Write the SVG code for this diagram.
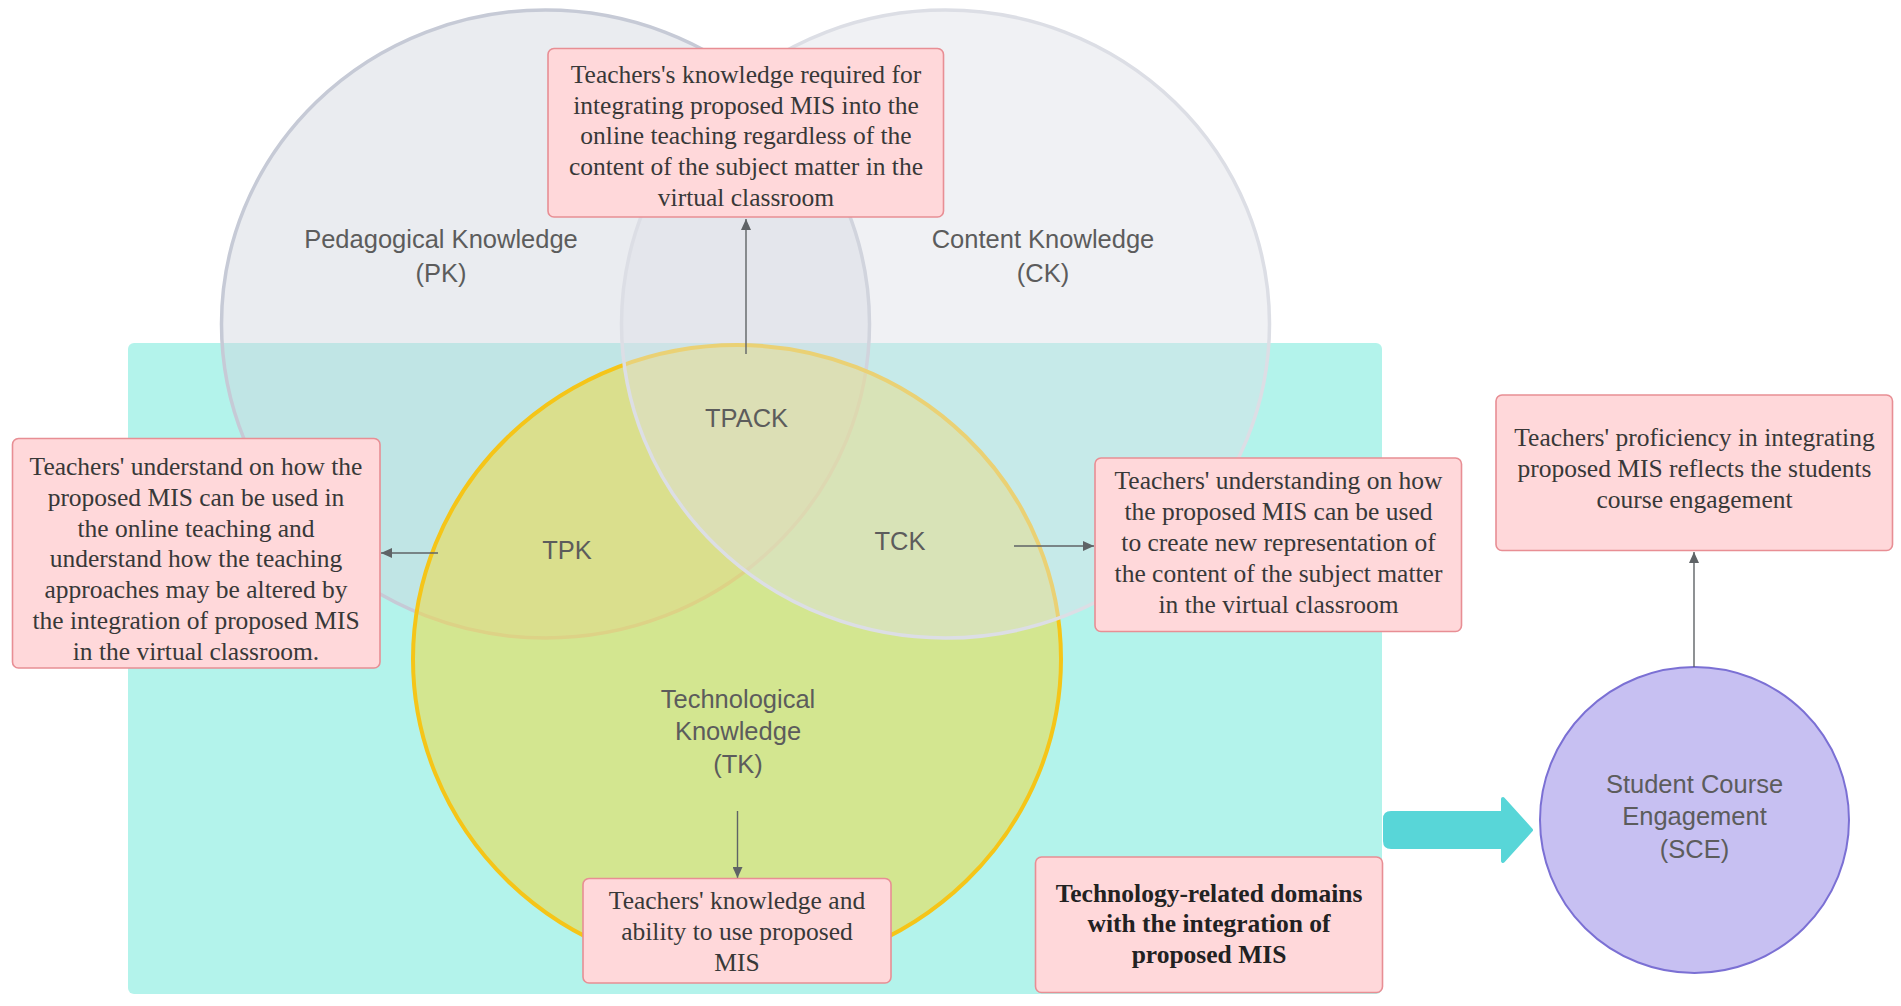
<svg xmlns="http://www.w3.org/2000/svg" width="1901" height="1006" viewBox="0 0 1901 1006">
<defs>
<style>
.box{fill:#ffd8da;stroke:#e88e94;stroke-width:1.6}
.bt{font-family:"Liberation Serif","Times New Roman",serif;font-size:25.5px;fill:#383838;text-anchor:middle}
.bb{font-weight:bold;fill:#222}
.lab{font-family:"Liberation Sans",Arial,sans-serif;font-size:25.5px;fill:#5c5c5c;text-anchor:middle}
.conn{stroke:#5f6366;stroke-width:1.4;fill:none}
</style>
<marker id="ah" markerUnits="userSpaceOnUse" markerWidth="11" markerHeight="10" refX="11" refY="5" orient="auto">
<path d="M0,0 L11,5 L0,10 Z" fill="#5f6366"/>
</marker>
</defs>
<rect width="1901" height="1006" fill="#ffffff"/>
<g id="tech-area">
<rect x="128" y="343" width="1254" height="651" rx="6" fill="#b3f3eb"/>
</g>
<g id="pk">
<ellipse cx="545.5" cy="324" rx="324" ry="314" fill="#d0d5de" fill-opacity="0.45" stroke="#c6cad6" stroke-width="3.5"/>
</g>
<g id="tk">
<ellipse cx="737" cy="659" rx="324" ry="314" fill="#f3d935" fill-opacity="0.5" stroke="#f5c518" stroke-width="4"/>
</g>
<g id="ck">
<ellipse cx="945.5" cy="324" rx="324" ry="314" fill="#dee0e7" fill-opacity="0.45" stroke="#dcdee5" stroke-width="3.5"/>
</g>
<g id="labels">
<text class="lab" x="441" y="248">Pedagogical Knowledge</text>
<text class="lab" x="441" y="282">(PK)</text>
<text class="lab" x="1043" y="248">Content Knowledge</text>
<text class="lab" x="1043" y="282">(CK)</text>
<text class="lab" x="746.5" y="427">TPACK</text>
<text class="lab" x="567" y="559">TPK</text>
<text class="lab" x="900" y="550">TCK</text>
<text class="lab" x="738" y="708">Technological</text>
<text class="lab" x="738" y="740">Knowledge</text>
<text class="lab" x="738" y="773">(TK)</text>
</g>
<g id="big-arrow">
<path d="M1391,813 L1503,813 L1503,799 L1531,830 L1503,861 L1503,847 L1391,847 Q1385,847 1385,841 L1385,819 Q1385,813 1391,813 Z" fill="#58d6d8" stroke="#58d6d8" stroke-width="4" stroke-linejoin="round"/>
</g>
<g id="sce">
<ellipse cx="1694.5" cy="820" rx="154.5" ry="153" fill="#c7c0f2" stroke="#7b70d4" stroke-width="2"/>
<text class="lab" x="1694.5" y="793">Student Course</text>
<text class="lab" x="1694.5" y="825">Engagement</text>
<text class="lab" x="1694.5" y="858">(SCE)</text>
</g>
<g id="connectors">
<path class="conn" d="M746,354 L746,219" marker-end="url(#ah)"/>
<path class="conn" d="M438,553 L381,553" marker-end="url(#ah)"/>
<path class="conn" d="M1014,546 L1094,546" marker-end="url(#ah)"/>
<path class="conn" d="M737.5,811 L737.5,878" marker-end="url(#ah)"/>
<path class="conn" d="M1694,667 L1694,552" marker-end="url(#ah)"/>
</g>
<g id="box-tpack">
<rect class="box" x="548" y="48.5" width="395.5" height="168.5" rx="6"/>
<text class="bt" x="746" y="82.5">Teachers's knowledge required for</text>
<text class="bt" x="746" y="113.5">integrating proposed MIS into the</text>
<text class="bt" x="746" y="144">online teaching regardless of the</text>
<text class="bt" x="746" y="175">content of the subject matter in the</text>
<text class="bt" x="746" y="205.5">virtual classroom</text>
</g>
<g id="box-tpk">
<rect class="box" x="12.5" y="438.5" width="367.5" height="229.5" rx="6"/>
<text class="bt" x="196" y="474.5">Teachers' understand on how the</text>
<text class="bt" x="196" y="505.5">proposed MIS can be used in</text>
<text class="bt" x="196" y="536.5">the online teaching and</text>
<text class="bt" x="196" y="567">understand how the teaching</text>
<text class="bt" x="196" y="598">approaches may be altered by</text>
<text class="bt" x="196" y="629">the integration of proposed MIS</text>
<text class="bt" x="196" y="660">in the virtual classroom.</text>
</g>
<g id="box-tck">
<rect class="box" x="1095" y="458" width="366.5" height="173.5" rx="6"/>
<text class="bt" x="1278.5" y="489">Teachers' understanding on how</text>
<text class="bt" x="1278.5" y="520">the proposed MIS can be used</text>
<text class="bt" x="1278.5" y="551">to create new representation of</text>
<text class="bt" x="1278.5" y="582">the content of the subject matter</text>
<text class="bt" x="1278.5" y="612.5">in the virtual classroom</text>
</g>
<g id="box-sce">
<rect class="box" x="1496" y="395" width="396.5" height="155.5" rx="6"/>
<text class="bt" x="1694.5" y="446">Teachers' proficiency in integrating</text>
<text class="bt" x="1694.5" y="476.5">proposed MIS reflects the students</text>
<text class="bt" x="1694.5" y="507.5">course engagement</text>
</g>
<g id="box-tk">
<rect class="box" x="583" y="878.5" width="308" height="104.5" rx="6"/>
<text class="bt" x="737" y="909">Teachers' knowledge and</text>
<text class="bt" x="737" y="940">ability to use proposed</text>
<text class="bt" x="737" y="971">MIS</text>
</g>
<g id="box-domains">
<rect class="box" x="1035.5" y="857" width="347" height="135.5" rx="6"/>
<text class="bt bb" x="1209" y="901.5">Technology-related domains</text>
<text class="bt bb" x="1209" y="932">with the integration of</text>
<text class="bt bb" x="1209" y="962.5">proposed MIS</text>
</g>
</svg>
